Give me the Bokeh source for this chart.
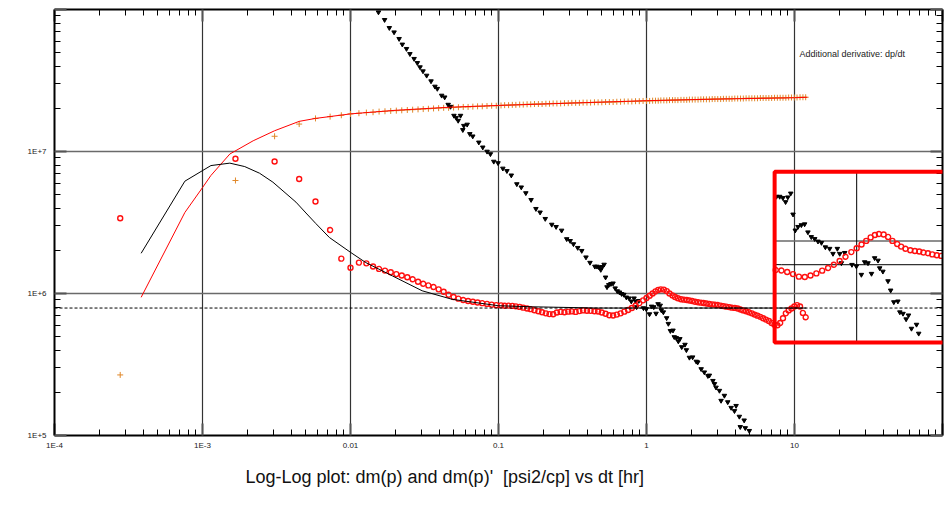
import numpy as np
from bokeh.plotting import figure
from bokeh.models import (LogAxis, FixedTicker, Range1d, LogScale, Span, BoxAnnotation,
                          Label, Title)
from bokeh.embed import file_html
from bokeh.resources import INLINE

# ---------------- data ----------------
# measured times [hr]
dt = [0.000278, 0.00167, 0.00307, 0.0045, 0.0058, 0.00728, 0.00867, 0.0100,
      0.0114, 0.0128, 0.0142, 0.0156, 0.0171, 0.0187, 0.0204, 0.0222, 0.0242, 0.0263,
      0.0286, 0.0310, 0.0336, 0.0364, 0.0394, 0.0426, 0.0460, 0.0497, 0.0536, 0.0578,
      0.0623, 0.0671, 0.0722, 0.0777, 0.0836, 0.0899, 0.0966,
      0.104, 0.110, 0.117, 0.124, 0.131, 0.139, 0.147, 0.156, 0.165, 0.175,
      0.186, 0.197, 0.209, 0.221, 0.234, 0.248, 0.263, 0.279, 0.296, 0.313,
      0.332, 0.352, 0.373, 0.396, 0.419, 0.445, 0.471, 0.499, 0.529, 0.561,
      0.595, 0.630, 0.668, 0.708, 0.751, 0.796, 0.843, 0.894, 0.948,
      1.00, 1.05, 1.10, 1.15, 1.20, 1.25, 1.31, 1.37, 1.43, 1.50,
      1.56, 1.63, 1.71, 1.79, 1.87, 1.95, 2.04, 2.13, 2.23, 2.33,
      2.43, 2.54, 2.66, 2.78, 2.90, 3.03, 3.17, 3.31, 3.46, 3.62,
      3.78, 3.95, 4.13, 4.32, 4.51, 4.71, 4.93, 5.15, 5.38, 5.62,
      5.88, 6.14, 6.42, 6.71, 7.01, 7.33, 7.66, 8.00, 8.36, 8.74,
      9.13, 9.54, 9.97, 10.4, 10.9, 11.4, 11.9]

# dm(p) data [psi2/cp]
dmp = [2.67e5, 6.25e6, 1.28e7, 1.56e7, 1.71e7, 1.76e7, 1.80e7, 1.84e7,
       1.86e7, 1.88e7, 1.89e7, 1.91e7, 1.92e7, 1.93e7, 1.94e7, 1.95e7, 1.96e7, 1.97e7,
       1.98e7, 1.99e7, 2.00e7, 2.01e7, 2.02e7, 2.03e7, 2.03e7, 2.04e7, 2.05e7, 2.06e7,
       2.06e7, 2.07e7, 2.08e7, 2.08e7, 2.09e7, 2.10e7, 2.10e7,
       2.11e7, 2.12e7, 2.12e7, 2.13e7, 2.13e7, 2.14e7, 2.14e7, 2.15e7, 2.15e7, 2.16e7,
       2.16e7, 2.16e7, 2.17e7, 2.17e7, 2.18e7, 2.18e7, 2.18e7, 2.19e7, 2.19e7, 2.20e7,
       2.20e7, 2.20e7, 2.21e7, 2.21e7, 2.21e7, 2.22e7, 2.22e7, 2.22e7, 2.23e7, 2.23e7,
       2.23e7, 2.24e7, 2.24e7, 2.25e7, 2.25e7, 2.25e7, 2.26e7, 2.26e7, 2.27e7,
       2.27e7, 2.27e7, 2.28e7, 2.28e7, 2.28e7, 2.29e7, 2.29e7, 2.29e7, 2.30e7, 2.30e7,
       2.30e7, 2.30e7, 2.31e7, 2.31e7, 2.31e7, 2.32e7, 2.32e7, 2.32e7, 2.32e7, 2.33e7,
       2.33e7, 2.33e7, 2.33e7, 2.34e7, 2.34e7, 2.34e7, 2.34e7, 2.35e7, 2.35e7, 2.35e7,
       2.35e7, 2.36e7, 2.36e7, 2.36e7, 2.36e7, 2.37e7, 2.37e7, 2.37e7, 2.37e7, 2.37e7,
       2.38e7, 2.38e7, 2.38e7, 2.38e7, 2.38e7, 2.39e7, 2.39e7, 2.39e7, 2.39e7, 2.39e7,
       2.40e7, 2.40e7, 2.40e7, 2.40e7, 2.41e7, 2.41e7, 2.41e7]

# dm(p)' derivative data [psi2/cp]
dmp_deriv = [3.39e6, 8.9e6, 8.5e6, 6.4e6, 4.45e6, 2.8e6, 1.76e6, 1.52e6,
             1.65e6, 1.63e6, 1.55e6, 1.49e6, 1.45e6, 1.41e6, 1.37e6, 1.34e6, 1.30e6, 1.26e6,
             1.21e6, 1.17e6, 1.14e6, 1.11e6, 1.07e6, 1.03e6, 9.8e5, 9.45e5, 9.2e5, 9.0e5,
             8.85e5, 8.75e5, 8.65e5, 8.55e5, 8.45e5, 8.35e5, 8.28e5,
             8.25e5, 8.2e5, 8.22e5, 8.18e5, 8.12e5, 8.05e5, 7.95e5, 7.85e5, 7.76e5, 7.62e5,
             7.5e5, 7.38e5, 7.25e5, 7.16e5, 7.14e5, 7.35e5, 7.42e5, 7.38e5, 7.45e5, 7.48e5,
             7.42e5, 7.52e5, 7.6e5, 7.56e5, 7.55e5, 7.5e5, 7.46e5, 7.35e5, 7.2e5, 7.02e5,
             7.0e5, 7.1e5, 7.25e5, 7.45e5, 7.65e5, 7.9e5, 8.2e5, 8.55e5, 8.95e5,
             9.3e5, 9.65e5, 1.0e6, 1.035e6, 1.06e6, 1.07e6, 1.065e6, 1.04e6, 1.0e6, 9.7e5,
             9.45e5, 9.25e5, 9.12e5, 9.05e5, 9.0e5, 8.92e5, 8.85e5, 8.75e5, 8.68e5, 8.62e5,
             8.58e5, 8.5e5, 8.45e5, 8.38e5, 8.35e5, 8.3e5, 8.22e5, 8.15e5, 8.08e5, 8.02e5,
             7.95e5, 7.92e5, 7.85e5, 7.72e5, 7.6e5, 7.5e5, 7.38e5, 7.25e5, 7.1e5, 6.98e5,
             6.85e5, 6.7e5, 6.55e5, 6.4e5, 6.2e5, 6.02e5, 5.98e5, 6.2e5, 6.7e5, 7.25e5,
             7.6e5, 7.85e5, 8.1e5, 8.28e5, 8.1e5, 7.3e5, 6.8e5]

# additional derivative dp/dt
dpdt_t = [0.01545, 0.0170, 0.0183, 0.0197, 0.0213, 0.0224, 0.0239, 0.0252, 0.0269, 0.0283,
          0.0295, 0.0309, 0.0327, 0.0350, 0.0372, 0.0386, 0.0413, 0.0433, 0.0457, 0.0474,
          0.0500, 0.0518, 0.0534, 0.0554, 0.0574, 0.0583, 0.0614, 0.0640, 0.0670, 0.0736,
          0.0783, 0.0837, 0.0882, 0.0929, 0.0993, 0.107, 0.114, 0.122, 0.133, 0.1425,
          0.153, 0.166, 0.179, 0.191, 0.207, 0.229, 0.245, 0.267, 0.289, 0.305,
          0.321, 0.343, 0.365, 0.39, 0.415, 0.448, 0.463, 0.478, 0.491, 0.502,
          0.517, 0.529, 0.541, 0.556, 0.575, 0.594, 0.614, 0.635, 0.657, 0.679,
          0.703, 0.731, 0.763, 0.789, 0.824, 0.844, 0.858, 0.887, 0.954, 0.997,
          1.048, 1.083, 1.12, 1.16, 1.197, 1.238, 1.259, 1.30, 1.368, 1.405,
          1.45, 1.51, 1.54, 1.59, 1.64, 1.68, 1.73, 1.82, 1.86, 1.95,
          2.05, 2.17, 2.22, 2.34, 2.46, 2.6, 2.66, 2.81, 2.88, 2.95,
          3.11, 3.19, 3.36, 3.54, 3.73, 3.93, 4.03, 4.24, 4.3, 4.57,
          4.65, 4.95]
dpdt_v = [9.57e7, 8.46e7, 7.43e7, 6.92e7, 6.22e7, 5.68e7, 5.29e7, 4.87e7, 4.50e7, 4.21e7,
          3.93e7, 3.68e7, 3.43e7, 3.13e7, 2.87e7, 2.77e7, 2.48e7, 2.41e7, 2.14e7, 2.07e7,
          1.79e7, 1.73e7, 1.65e7, 1.79e7, 1.42e7, 1.52e7, 1.55e7, 1.33e7, 1.28e7, 1.16e7,
          1.07e7, 1.00e7, 9.6e6, 8.5e6, 8.3e6, 7.6e6, 7.3e6, 6.8e6, 5.9e6, 5.6e6,
          5.1e6, 4.57e6, 3.95e6, 3.73e6, 3.36e6, 3.06e6, 2.95e6, 2.78e6, 2.42e6, 2.35e6,
          2.23e6, 2.1e6, 2.0e6, 1.8e6, 1.65e6, 1.55e6, 1.55e6, 1.53e6, 1.47e6, 1.54e6,
          1.60e6, 1.30e6, 1.11e6, 1.15e6, 1.17e6, 1.18e6, 1.09e6, 1.04e6, 1.02e6, 9.95e5,
          9.82e5, 9.4e5, 9.26e5, 8.81e5, 9.26e5, 8.81e5, 8.03e5, 8.89e5, 7.9e5, 7.78e5,
          7.16e5, 8.11e5, 8.03e5, 7.23e5, 8.44e5, 8.24e5, 7.64e5, 7.39e5, 6.72e5, 6.13e5,
          5.46e5, 5.5e5, 4.94e5, 4.87e5, 4.61e5, 4.79e5, 4.2e5, 4.37e5, 4.0e5, 3.54e5,
          3.56e5, 3.32e5, 3.28e5, 2.94e5, 2.79e5, 2.63e5, 2.65e5, 2.43e5, 2.31e5, 2.18e5,
          2.07e5, 1.76e5, 1.91e5, 1.72e5, 1.57e5, 1.49e5, 1.62e5, 1.36e5, 1.15e5, 1.28e5,
          1.13e5, 1.08e5]

# model dm(p) (red line)
model_t = [3.85e-4, 7.6e-4, 1.0e-3, 1.14e-3, 1.53e-3, 2.2e-3, 3.07e-3, 4.5e-3, 5.8e-3,
           0.01, 0.02, 0.0464, 0.1, 0.3, 1.0, 3.0, 10.0, 12.2]
model_p = [9.4e5, 3.72e6, 5.57e6, 6.78e6, 9.6e6, 1.19e7, 1.4e7, 1.63e7, 1.71e7,
           1.84e7, 1.95e7, 2.05e7, 2.11e7, 2.19e7, 2.28e7, 2.34e7, 2.39e7, 2.41e7]

# model dm(p)' (black line)
model_d_t = [3.85e-4, 7.6e-4, 1.14e-3, 1.53e-3, 1.93e-3, 2.43e-3, 2.99e-3, 4.28e-3, 5.0e-3,
             5.83e-3, 7.2e-3, 0.01, 0.0127, 0.0192, 0.0305, 0.0486, 0.1, 0.17, 0.472, 1.0, 12.0]
model_d = [1.92e6, 6.18e6, 7.96e6, 8.28e6, 7.83e6, 7.03e6, 6.08e6, 4.4e6, 3.69e6,
           3.11e6, 2.48e6, 1.95e6, 1.65e6, 1.33e6, 1.045e6, 9.1e5, 8.2e5, 8.06e5, 7.9e5, 7.9e5, 7.9e5]

iarf_level = 7.9e5     # dashed stabilisation line

x_ticks = [1e-4, 1e-3, 1e-2, 1e-1, 1.0, 10.0, 100.0]
x_tick_labels = ["1E-4", "1E-3", "0.01", "0.1", "1", "10", " "]
y_ticks = [1e5, 1e6, 1e7, 1e8]
y_tick_labels = ["1E+5", "1E+6", "1E+7", " "]

title_text = "Log-Log plot: dm(p) and dm(p)'\u00a0 [psi2/cp] vs dt [hr]"
note_text = "Additional derivative: dp/dt"

# inset (magnified view) : where it sits in the main plot, and what it shows
INSET_BOX_X = (7.34, 100.0)
INSET_BOX_Y = (4.52e5, 7.19e6)
INSET_VIEW_X = (0.44, 2.36)
INSET_VIEW_Y = (3.66e5, 1.98e6)

X_RANGE = (1e-4, 100.0)
Y_RANGE = (1e5, 1e8)

FONT = "Liberation Sans"

# ---------------- figure ----------------
p = figure(width=945, height=510, x_axis_type="log", y_axis_type="log",
           x_range=Range1d(*X_RANGE), y_range=Range1d(*Y_RANGE),
           output_backend="svg", toolbar_location=None,
           min_border_left=54, min_border_right=0, min_border_top=9, min_border_bottom=75,
           outline_line_color=None, background_fill_color="white", border_fill_color="white")

minor_x = [m * 10.0 ** k for k in range(-4, 2) for m in range(2, 10)]
minor_y = [m * 10.0 ** k for k in range(5, 8) for m in range(2, 10)]
xt = FixedTicker(ticks=x_ticks, minor_ticks=minor_x)
yt = FixedTicker(ticks=y_ticks, minor_ticks=minor_y)


def style_axis(ax, ticker, labels, font_size="8px"):
    ax.ticker = ticker
    ax.axis_line_width = 2
    ax.axis_line_color = "black"
    ax.major_tick_in = 12
    ax.major_tick_out = 0
    ax.major_tick_line_width = 2
    ax.major_tick_line_color = "#555555"
    ax.minor_tick_in = 6
    ax.minor_tick_out = 0
    ax.minor_tick_line_color = "black"
    ax.minor_tick_line_width = 1
    ax.major_label_text_font = FONT
    ax.major_label_text_font_size = font_size
    ax.major_label_text_color = "#222222"
    ax.major_label_overrides = labels


style_axis(p.xaxis[0], xt, {t: l for t, l in zip(x_ticks, x_tick_labels)})
p.xaxis[0].major_label_standoff = 5
style_axis(p.yaxis[0], yt, {t: l for t, l in zip(y_ticks, y_tick_labels)})
p.yaxis[0].major_label_standoff = 8

top_ax = LogAxis()
style_axis(top_ax, xt, {t: " " for t in x_ticks}, "1px")
top_ax.major_label_standoff = 0
p.add_layout(top_ax, "above")
right_ax = LogAxis()
style_axis(right_ax, yt, {t: " " for t in y_ticks}, "1px")
right_ax.major_label_standoff = 0
p.add_layout(right_ax, "right")

p.xgrid.ticker = xt
p.ygrid.ticker = yt
p.xgrid.grid_line_color = "#333333"
p.xgrid.grid_line_width = 1.2
p.ygrid.grid_line_color = "#6a6a6a"
p.ygrid.grid_line_width = 1.5

# dashed line
p.add_layout(Span(location=iarf_level, dimension="width", line_color="black",
                  line_width=1, line_dash="3 2"))

# ---------------- main series ----------------
p.scatter(dt, dmp, marker="cross", size=6, line_color="#e0882a", line_width=1)
p.scatter(dpdt_t, dpdt_v, marker="inverted_triangle", size=4.5,
          fill_color="black", line_color="black")
p.scatter(dt, dmp_deriv, marker="circle", size=5, fill_color=None,
          line_color="#ff1010", line_width=1.4)
p.line(model_t, model_p, line_color="red", line_width=1)
p.line(model_d_t, model_d, line_color="black", line_width=1)

p.add_layout(Label(x=10.8, y=4.88e7, text=note_text, text_font=FONT, text_font_size="9px",
                   text_color="#222222", text_baseline="middle"))

# ---------------- inset ----------------
def extra_range(frame, box, view):
    f0, f1 = np.log10(frame)
    b0, b1 = np.log10(box)
    v0, v1 = np.log10(view)
    r0 = (b0 - f0) / (f1 - f0)
    r1 = (b1 - f0) / (f1 - f0)
    span = (v1 - v0) / (r1 - r0)
    e0 = v0 - r0 * span
    return Range1d(10 ** e0, 10 ** (e0 + span))


p.extra_x_ranges = {"ix": extra_range(X_RANGE, INSET_BOX_X, INSET_VIEW_X)}
p.extra_y_ranges = {"iy": extra_range(Y_RANGE, INSET_BOX_Y, INSET_VIEW_Y)}
p.extra_x_scales = {"ix": LogScale()}
p.extra_y_scales = {"iy": LogScale()}


def in_view(ts, vs):
    ts = np.asarray(ts); vs = np.asarray(vs)
    m = ((ts >= INSET_VIEW_X[0]) & (ts <= INSET_VIEW_X[1]) &
         (vs >= INSET_VIEW_Y[0]) & (vs <= INSET_VIEW_Y[1]))
    return ts[m], vs[m]


ix = dict(x_range_name="ix", y_range_name="iy")
# inset grid
p.line([INSET_VIEW_X[0], INSET_VIEW_X[1]], [1e6, 1e6], line_color="#6a6a6a", line_width=1.5, **ix)
p.line([1.0, 1.0], [INSET_VIEW_Y[0], INSET_VIEW_Y[1]], line_color="black", line_width=1, **ix)
# inset model line clipped to the inset view
lt = np.log10(model_d_t); lv = np.log10(model_d)
c0, c1 = np.log10(INSET_VIEW_X)
sel = (lt > c0) & (lt < c1)
clip_t = np.concatenate([[c0], lt[sel], [c1]])
clip_v = np.interp(clip_t, lt, lv)
p.line(10 ** clip_t, 10 ** clip_v, line_color="black", line_width=1, **ix)
tt, tv = in_view(dpdt_t, dpdt_v)
p.scatter(tt, tv, marker="inverted_triangle", size=4.5, fill_color="black", line_color="black", **ix)
ct, cv = in_view(dt, dmp_deriv)
p.scatter(ct, cv, marker="circle", size=5, fill_color=None, line_color="#ff1010", line_width=1.4, **ix)

p.add_layout(BoxAnnotation(left=INSET_BOX_X[0], right=INSET_BOX_X[1] * 3,
                           bottom=INSET_BOX_Y[0], top=INSET_BOX_Y[1],
                           fill_color=None, fill_alpha=0, line_color="red",
                           line_alpha=1.0, line_width=4))

# outer page frame (left and top edges)
p.add_layout(BoxAnnotation(left=10, right=2000, top=8, bottom=2000,
                           left_units="canvas", right_units="canvas",
                           top_units="canvas", bottom_units="canvas",
                           fill_color=None, fill_alpha=0, line_color="black",
                           line_alpha=1.0, line_width=1, level="overlay"))

# ---------------- title ----------------
p.add_layout(Title(text=title_text, align="left", offset=191, text_font=FONT,
                   text_font_size="18px", text_font_style="normal", text_color="#111111",
                   standoff=24), "below")

open("out.html", "w").write(file_html(p, INLINE))
